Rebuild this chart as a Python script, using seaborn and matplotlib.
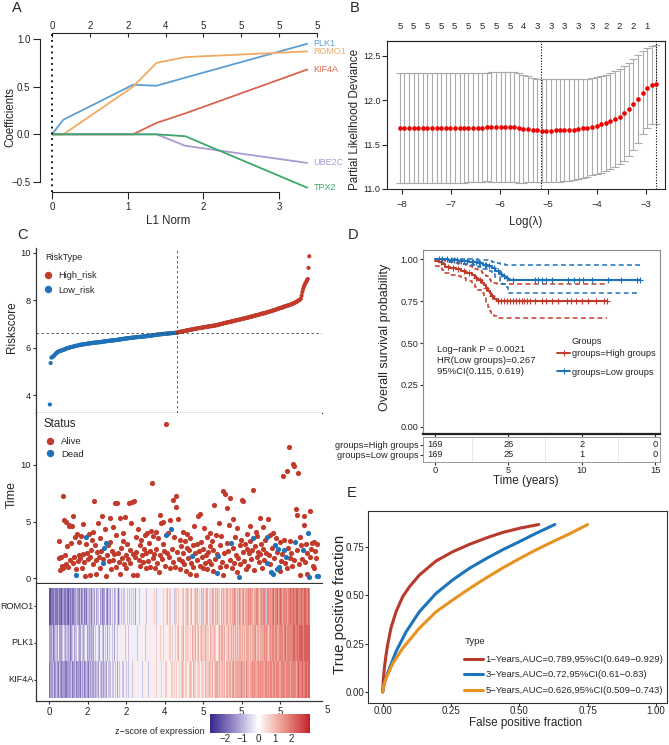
import numpy as np
import pandas as pd
import matplotlib
matplotlib.use("Agg")
import matplotlib.pyplot as plt
import seaborn as sns
from matplotlib.lines import Line2D
from matplotlib.colors import LinearSegmentedColormap

# ---------------- data ----------------
# A: lasso coefficient paths (knots)
genes = ["PLK1", "ROMO1", "KIF4A", "UBE2C", "TPX2"]
l1_norm = [0, 0.15, 1.07, 1.38, 1.76, 3.37]
coef_plk1 = [0, 0.154, 0.52, 0.51, 0.595, 0.95]
coef_romo1 = [0, 0.0, 0.50, 0.75, 0.81, 0.87]
coef_kif4a = [0, 0, 0, 0.12, 0.22, 0.68]
coef_ube2c = [0, 0, 0, 0, -0.12, -0.30]
coef_tpx2 = [0, 0, 0, 0, -0.02, -0.56]
a_top_pos = [0, 0.5, 1, 1.5, 2, 2.5, 3, 3.5]
a_top_labels = ["0", "2", "2", "4", "5", "5", "5", "5"]

# B: cross-validation curve
log_lambda = [-8.04, -7.95, -7.85, -7.76, -7.67, -7.57, -7.48, -7.39, -7.29, -7.20,
              -7.10, -7.01, -6.92, -6.82, -6.73, -6.64, -6.54, -6.45, -6.35, -6.26,
              -6.17, -6.07, -5.98, -5.89, -5.79, -5.70, -5.60, -5.51, -5.42, -5.32,
              -5.23, -5.14, -5.04, -4.95, -4.85, -4.76, -4.67, -4.57, -4.48, -4.39,
              -4.29, -4.20, -4.10, -4.01, -3.92, -3.82, -3.73, -3.63, -3.54, -3.45,
              -3.35, -3.26, -3.17, -3.07, -2.98, -2.88, -2.79]
cvm = [11.684, 11.684, 11.684, 11.684, 11.684, 11.684, 11.684, 11.684, 11.684, 11.684,
       11.684, 11.684, 11.684, 11.684, 11.684, 11.692, 11.692, 11.692, 11.692, 11.699,
       11.699, 11.699, 11.699, 11.699, 11.699, 11.695, 11.688, 11.680, 11.673, 11.665,
       11.662, 11.658, 11.658, 11.658, 11.662, 11.662, 11.665, 11.665, 11.669, 11.677,
       11.684, 11.692, 11.703, 11.714, 11.729, 11.744, 11.763, 11.786, 11.816, 11.853,
       11.898, 11.955, 12.015, 12.086, 12.135, 12.173, 12.180]
cvsd = [0.621, 0.621, 0.621, 0.621, 0.621, 0.621, 0.621, 0.621, 0.621, 0.621,
        0.621, 0.621, 0.621, 0.621, 0.621, 0.613, 0.613, 0.617, 0.617, 0.609,
        0.617, 0.617, 0.617, 0.617, 0.617, 0.621, 0.617, 0.609, 0.598, 0.587,
        0.583, 0.583, 0.583, 0.583, 0.579, 0.579, 0.576, 0.576, 0.572, 0.564,
        0.557, 0.553, 0.549, 0.549, 0.545, 0.545, 0.542, 0.541, 0.534, 0.534,
        0.527, 0.515, 0.496, 0.470, 0.451, 0.440, 0.444]
nz_labels = [5, 5, 5, 5, 5, 5, 5, 5, 5, 4, 3, 3, 3, 3, 3, 2, 2, 2, 1]
lambda_min = -5.16
lambda_1se = -2.79

# C: risk score (sorted), survival time, heatmap
n_low = 166
risk_score = [
    3.60, 5.35, 5.58, 5.60, 5.62, 5.65, 5.68, 5.72, 5.76, 5.79,
    5.81, 5.83, 5.85, 5.86, 5.87, 5.88, 5.89, 5.90, 5.91, 5.93,
    5.94, 5.96, 5.97, 5.98, 5.99, 6.00, 6.01, 6.02, 6.03, 6.03,
    6.04, 6.05, 6.06, 6.07, 6.08, 6.08, 6.09, 6.10, 6.11, 6.12,
    6.12, 6.13, 6.13, 6.14, 6.14, 6.15, 6.15, 6.16, 6.16, 6.17,
    6.17, 6.18, 6.18, 6.19, 6.19, 6.20, 6.20, 6.21, 6.21, 6.21,
    6.22, 6.22, 6.22, 6.23, 6.23, 6.23, 6.24, 6.24, 6.25, 6.25,
    6.26, 6.26, 6.27, 6.27, 6.28, 6.28, 6.29, 6.29, 6.29, 6.30,
    6.30, 6.30, 6.31, 6.31, 6.31, 6.32, 6.32, 6.33, 6.33, 6.34,
    6.34, 6.35, 6.35, 6.36, 6.36, 6.37, 6.37, 6.38, 6.38, 6.39,
    6.39, 6.40, 6.40, 6.40, 6.41, 6.41, 6.42, 6.42, 6.42, 6.43,
    6.43, 6.44, 6.44, 6.44, 6.45, 6.45, 6.45, 6.46, 6.46, 6.46,
    6.47, 6.47, 6.47, 6.48, 6.48, 6.48, 6.49, 6.49, 6.49, 6.50,
    6.50, 6.51, 6.51, 6.52, 6.52, 6.53, 6.53, 6.54, 6.54, 6.55,
    6.55, 6.55, 6.56, 6.56, 6.57, 6.57, 6.57, 6.58, 6.58, 6.58,
    6.59, 6.59, 6.59, 6.60, 6.60, 6.60, 6.61, 6.61, 6.61, 6.62,
    6.62, 6.62, 6.62, 6.63, 6.63, 6.63,
    6.64, 6.65, 6.66, 6.67, 6.67, 6.68, 6.69, 6.69, 6.70, 6.71,
    6.71, 6.72, 6.73, 6.73, 6.74, 6.75, 6.75, 6.76, 6.77, 6.77,
    6.78, 6.78, 6.79, 6.80, 6.80, 6.81, 6.82, 6.82, 6.83, 6.83,
    6.84, 6.84, 6.85, 6.85, 6.86, 6.87, 6.87, 6.88, 6.88, 6.89,
    6.89, 6.90, 6.90, 6.91, 6.91, 6.92, 6.92, 6.93, 6.93, 6.94,
    6.95, 6.95, 6.96, 6.97, 6.98, 6.99, 7.00, 7.00, 7.01, 7.02,
    7.03, 7.04, 7.05, 7.05, 7.06, 7.07, 7.08, 7.08, 7.09, 7.10,
    7.11, 7.11, 7.12, 7.13, 7.14, 7.15, 7.15, 7.16, 7.17, 7.18,
    7.18, 7.19, 7.20, 7.21, 7.22, 7.22, 7.23, 7.24, 7.25, 7.25,
    7.26, 7.27, 7.28, 7.29, 7.30, 7.31, 7.31, 7.32, 7.33, 7.34,
    7.35, 7.36, 7.37, 7.37, 7.38, 7.39, 7.40, 7.41, 7.42, 7.43,
    7.44, 7.45, 7.45, 7.46, 7.47, 7.48, 7.49, 7.50, 7.51, 7.52,
    7.53, 7.54, 7.55, 7.56, 7.57, 7.58, 7.59, 7.60, 7.61, 7.63,
    7.64, 7.65, 7.66, 7.67, 7.68, 7.69, 7.70, 7.71, 7.73, 7.74,
    7.75, 7.76, 7.77, 7.78, 7.79, 7.80, 7.81, 7.82, 7.84, 7.85,
    7.87, 7.88, 7.90, 7.91, 7.93, 7.95, 7.97, 7.99, 8.01, 8.04,
    8.07, 8.20, 8.35, 8.48, 8.58, 8.66, 8.72, 8.78, 8.84, 8.90,
    9.37, 9.86]
risk_cut = 6.63

surv_time = [
    1.8, 3.3, 0.7, 1.9, 1.1, 0.9, 7.3, 5.1, 2.0, 1.2,
    5.0, 2.8, 1.0, 4.6, 4.7, 1.6, 3.1, 4.6, 1.3, 5.5,
    1.9, 3.6, 0.8, 0.24, 3.9, 1.5, 3.2, 2.0, 1.8, 3.7,
    0.9, 2.1, 4.8, 1.4, 0.2, 3.0, 3.6, 2.2, 1.7, 3.9,
    1.9, 0.3, 2.5, 3.4, 1.2, 4.1, 6.8, 2.9, 1.6, 0.4,
    2.3, 4.9, 1.9, 3.5, 0.9, 2.4, 5.5, 1.7, 1.3, 2.7,
    4.3, 0.2, 3.13, 2.0, 2.9, 1.5, 3.2, 5.3, 0.8, 2.4,
    1.6, 4.5, 2.1, 6.6, 1.0, 3.8, 6.67, 2.2, 1.4, 5.3,
    0.4, 2.7, 1.8, 3.3, 4.0, 1.2, 5.4, 2.0, 0.9, 3.0,
    1.7, 6.6, 2.5, 1.3, 4.9, 6.7, 2.1, 0.25, 6.8, 1.9,
    3.6, 2.3, 0.3, 4.3, 1.6, 2.9, 1.1, 3.4, 2.0, 5.2,
    1.4, 2.6, 3.8, 0.9, 2.2, 4.0, 1.5, 3.1, 1.0, 2.4,
    4.2, 8.4, 1.8, 3.7, 2.1, 0.9, 4.1, 2.6, 1.3, 3.5,
    0.5, 5.6, 2.0, 4.9, 1.7, 3.0, 5.0, 2.4, 1.1, 3.8,
    13.6, 2.2, 4.0, 1.9, 5.1, 0.9, 4.3, 2.6, 6.9, 1.4,
    3.6, 1.0, 6.3, 7.26, 2.3, 5.2, 1.7, 3.4, 0.8, 2.8,
    1.5, 4.1, 2.2, 1.2, 3.3, 0.6, 2.7, 3.9, 1.8, 2.5,
    0.4, 3.5, 1.3, 1.95, 2.9, 1.0, 4.6, 2.2, 0.3, 3.0,
    1.6, 5.5, 2.4, 1.1, 5.7, 3.2, 1.9, 0.9, 2.6, 4.4,
    1.3, 2.0, 3.6, 0.8, 2.3, 1.5, 4.0, 2.8, 1.2, 3.3,
    0.6, 2.5, 6.5, 1.7, 3.8, 2.1, 0.47, 1.95, 4.9, 1.0,
    2.9, 3.7, 1.4, 0.3, 7.7, 2.2, 7.4, 1.1, 6.2, 3.1,
    2.4, 4.7, 7.05, 1.6, 3.1, 0.9, 2.7, 5.2, 1.3, 3.6,
    2.0, 0.5, 4.4, 1.8, 0.12, 2.9, 1.2, 3.4, 6.9, 2.3,
    6.8, 1.5, 3.0, 0.8, 2.6, 3.9, 1.1, 2.2, 4.6, 3.3,
    1.7, 2.5, 7.75, 3.5, 0.7, 2.8, 4.1, 1.9, 3.7, 2.3,
    1.4, 5.3, 2.1, 3.0, 0.9, 2.6, 4.5, 1.6, 3.4, 2.2,
    3.66, 1.36, 5.2, 2.0, 3.8, 1.2, 0.5, 2.7, 4.0, 0.35,
    1.8, 2.9, 3.5, 0.8, 2.3, 2.6, 1.0, 3.2, 0.6, 1.5,
    2.1, 9.0, 3.4, 2.48, 1.3, 1.9, 0.9, 9.5, 2.7, 11.56,
    1.8, 3.3, 2.2, 1.1, 10.1, 9.9, 1.6, 3.2, 6.1, 2.5,
    5.6, 9.3, 1.2, 3.6, 0.3, 2.9, 1.7, 2.48, 4.7, 5.5,
    1.4, 3.0, 0.4, 2.2, 3.95, 0.06, 5.9, 1.9, 2.6, 3.1,
    1.1, 3.2, 0.9, 2.4, 1.8, 3.0, 0.18, 0.22]
dead_ranks = [24, 37, 59, 60, 63, 140, 147, 174, 207, 208, 225, 235, 254, 271, 272,
              277, 280, 282, 284, 286, 287, 294, 296, 308, 318, 325, 326, 337, 338]
time_shift = 11.5  # the time strip sits slightly right of the other strips

heat_genes = ["ROMO1", "PLK1", "KIF4A"]
# one digit per patient: level d -> z = -2.25 + 0.5 * d
heat_romo1 = "".join((
    "00110121011221102121122101", "21213122132211312231221332", "23132324123342231322432133",
    "32433423243132434233425343", "44354342545434454355443545", "45455465435456455465546356",
    "56546536565646556635665765", "66756467667566476675676746", "76676757667667576776675766",
    "77676787677687767786776787", "78778677878767787788737887", "88788978889788987898889788",
    "89889888979889898889987898"))
heat_plk1 = "".join((
    "22232123332412223243213322", "31232423134322243223414232", "43234243344323443524334243",
    "34435425443453445345344535", "45443545543455445455354454", "54556455465455645565465556",
    "56566546656756566475665665", "66576667566756676566767665", "67667676575676677667567676",
    "76767767677676767767676776", "77676778677768777678787767", "88787878887787888788978888",
    "78889898899899999899999999"))
heat_kif4a = "".join((
    "12221312232123212322131223", "22313223312232132431223213", "32324232433243323423342433",
    "43435343452434453434543435", "44534454354454453545445435", "54556454565455465545656455",
    "65665465665566567565666556", "67656766576667566765767667", "76677567767677667767576767",
    "77677867767776787677687776", "87787787767877878377887787", "78878887878878788878787888",
    "87888988788989889898999899"))
heat_ticks = [0, 50, 100, 150, 200, 250, 300]
heat_tick_labels = ["0", "2", "2", "4", "5", "5", "5"]

# D: Kaplan-Meier
high_t = [0, 0.25, 0.5, 0.7, 1.0, 1.4, 1.8, 2.1, 2.5, 2.7, 2.95, 3.2, 3.35, 3.45, 3.6, 3.75, 3.85, 4.05, 4.2, 11.7]
high_s = [0.988, 0.98, 0.97, 0.955, 0.945, 0.94, 0.93, 0.915, 0.905, 0.89, 0.875, 0.86, 0.845, 0.83,
          0.81, 0.795, 0.78, 0.762, 0.75, 0.75]
high_up = [1.0, 0.998, 0.994, 0.988, 0.982, 0.976, 0.968, 0.958, 0.95, 0.94, 0.93, 0.918, 0.908, 0.898,
           0.885, 0.874, 0.866, 0.856, 0.851, 0.851]
high_lo = [0.96, 0.945, 0.932, 0.915, 0.905, 0.898, 0.885, 0.868, 0.853, 0.835, 0.815, 0.795, 0.772,
           0.745, 0.715, 0.693, 0.678, 0.662, 0.65, 0.65]
low_t = [0, 0.9, 1.6, 2.3, 2.9, 3.3, 3.6, 3.9, 4.1, 4.4, 4.6, 4.8, 5.0, 14.0]
low_s = [1.0, 0.994, 0.988, 0.982, 0.975, 0.966, 0.957, 0.945, 0.93, 0.913, 0.9, 0.89, 0.877, 0.877]
low_up = [1.0, 1.0, 1.0, 0.999, 0.997, 0.994, 0.99, 0.985, 0.979, 0.972, 0.969, 0.967, 0.965, 0.965]
low_lo = [1.0, 0.982, 0.972, 0.962, 0.952, 0.94, 0.928, 0.912, 0.893, 0.87, 0.85, 0.832, 0.80, 0.80]
high_cens = [0.4, 0.9, 1.2, 1.6, 2.0, 2.3, 2.8, 3.1, 3.5, 3.9, 4.3, 4.5, 4.7, 4.9, 5.1, 5.3, 5.5, 5.7,
             5.9, 6.1, 6.3, 6.5, 6.8, 7.3, 7.6, 8.0, 8.4, 9.0, 9.3, 9.6, 10.0, 10.4, 11.0, 11.5, 11.7]
low_cens = [0.3, 0.5, 0.8, 1.1, 1.3, 1.5, 1.8, 2.0, 2.2, 2.5, 2.6, 2.8, 3.0, 3.1, 3.4, 3.5, 3.7, 4.0,
            4.3, 4.5, 4.7, 4.9, 5.3, 6.8, 7.05, 7.3, 7.6, 7.95, 9.1, 9.5, 9.8, 10.1, 10.7, 11.8,
            12.7, 13.75, 14.0]
km_groups = ["groups=High groups", "groups=Low groups"]
table_times = [0, 5, 10, 15]
n_risk_high = [169, 26, 2, 0]
n_risk_low = [169, 25, 1, 0]
km_stats = ["Log\u2212rank P = 0.0021", "HR(Low groups)=0.267", "95%CI(0.115, 0.619)"]

# E: time-dependent ROC
roc_types = ["1\u2212Years,AUC=0.789,95%CI(0.649\u22120.929)",
             "3\u2212Years,AUC=0.72,95%CI(0.61\u22120.83)",
             "5\u2212Years,AUC=0.626,95%CI(0.509\u22120.743)"]
fpr_1y = [0, 0.002, 0.006, 0.012, 0.018, 0.030, 0.049, 0.073, 0.098, 0.134, 0.195, 0.256, 0.317,
          0.378, 0.439, 0.505, 0.571]
tpr_1y = [0, 0.06, 0.122, 0.19, 0.243, 0.33, 0.416, 0.493, 0.545, 0.605, 0.678, 0.726, 0.764,
          0.797, 0.826, 0.849, 0.867]
fpr_3y = [0, 0.006, 0.015, 0.024, 0.049, 0.085, 0.134, 0.195, 0.256, 0.317, 0.378, 0.44, 0.5, 0.565, 0.63]
tpr_3y = [0, 0.045, 0.085, 0.12, 0.21, 0.31, 0.415, 0.51, 0.58, 0.64, 0.69, 0.737, 0.778, 0.824, 0.867]
fpr_5y = [0, 0.005, 0.012, 0.037, 0.073, 0.134, 0.195, 0.256, 0.317, 0.378, 0.44, 0.5, 0.56, 0.622,
          0.69, 0.75]
tpr_5y = [0, 0.04, 0.07, 0.148, 0.226, 0.33, 0.415, 0.476, 0.535, 0.59, 0.643, 0.69, 0.735, 0.778,
          0.823, 0.867]

# ---------------- style ----------------
sns.set_style("ticks")
plt.rcParams["font.family"] = ["Liberation Sans", "DejaVu Sans"]
plt.rcParams["axes.linewidth"] = 0.8
plt.rcParams["axes.unicode_minus"] = True

RED = "#C23B2A"
BLUE = "#1F72B8"
gene_colors = {"PLK1": "#5A9FD4", "ROMO1": "#F0AA62", "KIF4A": "#D9654F",
               "UBE2C": "#A99BD3", "TPX2": "#3CA86A"}

W, H = 669, 745
fig = plt.figure(figsize=(W / 100, H / 100), dpi=100)


def add_ax(box):
    x0, y0, x1, y1 = box
    return fig.add_axes([x0 / W, 1 - y1 / H, (x1 - x0) / W, (y1 - y0) / H])


def to_ax(box, px, py):
    x0, y0, x1, y1 = box
    return (px - x0) / (x1 - x0), (y1 - py) / (y1 - y0)


def labels_at(ax, box, xlabel=None, xpos=None, ylabel=None, ypos=None, size=8.5):
    if xlabel is not None:
        ax.set_xlabel(xlabel, fontsize=size, va="center", ha="center")
        ax.xaxis.set_label_coords(*to_ax(box, *xpos))
    if ylabel is not None:
        ax.set_ylabel(ylabel, fontsize=size, va="center", ha="center")
        ax.yaxis.set_label_coords(*to_ax(box, *ypos))


def letter(txt, px, py):
    fig.text(px / W, 1 - py / H, txt, fontsize=10.5, ha="center", va="center")


def ftext(px, py, txt, **kw):
    fig.text(px / W, 1 - py / H, txt, **kw)


def dot_legend(ax, colors, labels, left_px, top_px, size, pitch_sp, hlen, hpad):
    handles = [Line2D([], [], ls="", marker="o", ms=4.3, color=c) for c in colors]
    ax.legend(handles=handles, labels=labels, loc="upper left",
              bbox_to_anchor=(left_px / W, 1 - top_px / H), bbox_transform=fig.transFigure,
              frameon=False, fontsize=size, handlelength=hlen, handletextpad=hpad,
              labelspacing=pitch_sp, borderpad=0, borderaxespad=0)


# ---------------- A ----------------
box_a = (40, 33, 318.6, 192)
ax_a = add_ax(box_a)
coef_df = pd.DataFrame({
    "norm": l1_norm * 5,
    "coef": coef_plk1 + coef_romo1 + coef_kif4a + coef_ube2c + coef_tpx2,
    "gene": [g for g in genes for _ in l1_norm],
})
sns.lineplot(data=coef_df, x="norm", y="coef", hue="gene", hue_order=genes, palette=gene_colors,
             linewidth=1.3, legend=False, errorbar=None, ax=ax_a)
ax_a.axvline(0, color="black", ls=(0, (1, 2.2)), lw=1.3)
ax_a.set_xlim(-0.159, 3.52)
ax_a.set_ylim(-0.605, 1.063)
ax_a.spines["right"].set_visible(False)
ax_a.spines["top"].set_visible(False)
ax_a.spines["left"].set_bounds(-0.5, 1.0)
ax_a.spines["bottom"].set_bounds(0, 3)
ax_a.set_xticks([0, 1, 2, 3])
ax_a.set_yticks([-0.5, 0, 0.5, 1.0], labels=["\u22120.5", "0.0", "0.5", "1.0"])
ax_a.tick_params(direction="out", length=5, width=0.8, labelsize=7, pad=2)
top_a = ax_a.secondary_xaxis("top")
top_a.set_xticks(a_top_pos, labels=a_top_labels)
top_a.spines["top"].set_bounds(0, 3.5)
top_a.tick_params(direction="in", length=3, width=0.8, labelsize=7, pad=1.5)
ends = [coef_plk1[-1], coef_romo1[-1], coef_kif4a[-1], coef_ube2c[-1], coef_tpx2[-1]]
for g, yv in zip(genes, ends):
    ax_a.text(3.45, yv, g, color=gene_colors[g], fontsize=6.5, ha="left", va="center", clip_on=False)
labels_at(ax_a, box_a, "L1 Norm", (168, 221), "Coefficients", (10, 117), size=8.3)
letter("A", 17, 8)

# ---------------- B ----------------
box_b = (387, 41, 665, 189)
ax_b = add_ax(box_b)
ax_b.errorbar(log_lambda, cvm, yerr=cvsd, fmt="none", ecolor="#ABABAB", elinewidth=0.8,
              capsize=3.0, capthick=0.8)
sns.scatterplot(x=log_lambda, y=cvm, color="#F00000", s=11, linewidth=0, ax=ax_b, zorder=3)
for v in (lambda_min, lambda_1se):
    ax_b.axvline(v, color="black", ls=(0, (1, 1.5)), lw=0.8)
ax_b.set_xlim(-8.307, -2.61)
ax_b.set_ylim(11.0, 12.669)
ax_b.set_xticks([-8, -7, -6, -5, -4, -3])
ax_b.set_yticks([11.0, 11.5, 12.0, 12.5], labels=["11.0", "11.5", "12.0", "12.5"])
ax_b.tick_params(direction="out", length=3.5, width=0.8, labelsize=6.8, pad=4.5)
ax_b.tick_params(axis="y", labelsize=6.5, pad=1.2)
top_b = ax_b.secondary_xaxis("top")
top_b.set_xticks(log_lambda[::3], labels=[str(n) for n in nz_labels])
top_b.tick_params(length=0, labelsize=6.8, pad=7)
labels_at(ax_b, box_b, "Log(\u03bb)", (526, 222), "Partial Likelihood Deviance", (355.5, 119), size=8.4)
letter("B", 355, 8)

# ---------------- C ----------------
ranks = np.arange(1, len(risk_score) + 1)
risk_df = pd.DataFrame({"rank": ranks, "score": risk_score,
                        "type": ["Low_risk"] * n_low + ["High_risk"] * (len(risk_score) - n_low)})
status = np.where(np.isin(np.arange(1, len(surv_time) + 1), dead_ranks), "Dead", "Alive")
time_df = pd.DataFrame({"x": np.arange(1, len(surv_time) + 1) + time_shift, "time": surv_time,
                        "status": status})
c_xlim = (-17, 354.5)

box_r = (36, 248, 322, 413)
ax_r = add_ax(box_r)
sns.scatterplot(data=risk_df, x="rank", y="score", hue="type",
                palette={"High_risk": RED, "Low_risk": BLUE}, s=9, linewidth=0, legend=False, ax=ax_r)
ax_r.axhline(risk_cut, color="#444444", ls=(0, (3, 3)), lw=0.6)
ax_r.axvline(n_low + 0.5, color="#444444", ls=(0, (3, 3)), lw=0.6)
ax_r.set_xlim(*c_xlim)
ax_r.set_ylim(3.24, 10.21)
ax_r.set_xticks([0, 100, 200, 300], labels=[])
ax_r.set_yticks([4, 6, 8, 10])
ax_r.set_xlabel("")
labels_at(ax_r, box_r, ylabel="Riskscore", ypos=(12, 327), size=8.5)
ftext(45, 258, "RiskType", fontsize=6.5, ha="left", va="center")
dot_legend(ax_r, [RED, BLUE], ["High_risk", "Low_risk"], 43.5, 271, 6.6, 0.62, 1.0, 0.65)

box_t = (36, 413, 322, 583)
ax_t = add_ax(box_t)
sns.scatterplot(data=time_df[time_df.status == "Alive"], x="x", y="time", color=RED, s=14,
                linewidth=0, ax=ax_t)
sns.scatterplot(data=time_df[time_df.status == "Dead"], x="x", y="time", color=BLUE, s=14,
                linewidth=0, ax=ax_t)
ax_t.set_xlim(*c_xlim)
ax_t.set_ylim(-0.44, 14.6)
ax_t.set_xticks([0, 100, 200, 300], labels=[])
ax_t.set_yticks([0, 5, 10])
ax_t.set_xlabel("")
labels_at(ax_t, box_t, ylabel="Time", ypos=(12, 495), size=8.8)
ftext(44, 424, "Status", fontsize=8.3, ha="left", va="center")
dot_legend(ax_t, [RED, BLUE], ["Alive", "Dead"], 44.3, 437, 6.8, 0.4, 1.2, 0.57)

for ax in (ax_r, ax_t):
    sns.despine(ax=ax)
    ax.tick_params(direction="out", length=2.5, width=0.8, labelsize=6.8, pad=1, color="#333333")
    for s in ("left", "bottom"):
        ax.spines[s].set_color("#333333")
        ax.spines[s].set_linewidth(0.9)

heat_df = pd.DataFrame([[-2.25 + 0.5 * int(c) for c in s] for s in (heat_romo1, heat_plk1, heat_kif4a)],
                       index=heat_genes)
heat_cmap = LinearSegmentedColormap.from_list(
    "zscore", ["#2A1A86", "#9385C6", "#FFFFFF", "#EC958A", "#C3232B"])
box_h = (36, 584, 322, 701)
ax_h = add_ax(box_h)
cax = add_ax((210, 714, 310, 733))
sns.heatmap(heat_df, ax=ax_h, cmap=heat_cmap, vmin=-2.9, vmax=3.1, center=0, cbar_ax=cax,
            cbar_kws={"orientation": "horizontal", "ticks": [-2, -1, 0, 1, 2]},
            xticklabels=False, yticklabels=True)
ax_h.set_xlim(c_xlim[0] - 0.5, c_xlim[1] - 0.5)
ax_h.set_ylim(3.082, -0.109)
ax_h.set_xticks([t - 0.5 for t in heat_ticks], labels=heat_tick_labels)
ax_h.set_yticks([0.5, 1.5, 2.5], labels=heat_genes, rotation=0)
ax_h.text(360.5, -0.075, "5", fontsize=7, ha="center", va="center", clip_on=False,
          transform=ax_h.get_xaxis_transform())
for s in ("left", "bottom"):
    ax_h.spines[s].set_visible(True)
    ax_h.spines[s].set_color("#333333")
    ax_h.spines[s].set_linewidth(0.9)
ax_h.tick_params(axis="y", direction="out", length=1.5, width=0.8, labelsize=6.6, pad=0.4,
                 color="#333333")
ax_h.tick_params(axis="x", direction="out", length=2.5, width=0.8, labelsize=7, pad=1.5,
                 color="#333333")
cbar = ax_h.collections[0].colorbar
cbar.outline.set_visible(False)
cax.tick_params(axis="x", direction="in", color="white", length=3, width=0.8, labelsize=7,
                pad=0.5, top=True)
ftext(205, 732, "z\u2212score of expression", fontsize=6.6, ha="right", va="center")
letter("C", 22, 235)

# ---------------- D ----------------
box_d = (423, 250, 660, 434)
ax_d = add_ax(box_d)
dash = (0, (3.2, 2.2))
for t, up, lo, col in ((high_t, high_up, high_lo, RED), (low_t, low_up, low_lo, BLUE)):
    ax_d.step(t, up, where="post", color=col, lw=1.1, ls=dash)
    ax_d.step(t, lo, where="post", color=col, lw=1.1, ls=dash)
for t, s, col in ((high_t, high_s, RED), (low_t, low_s, BLUE)):
    sns.lineplot(x=t, y=s, drawstyle="steps-post", color=col, lw=1.5, errorbar=None, ax=ax_d)
for t, s, cens, col in ((high_t, high_s, high_cens, RED), (low_t, low_s, low_cens, BLUE)):
    idx = np.searchsorted(t, cens, side="right") - 1
    ax_d.plot(cens, np.array(s)[idx], ls="", marker="+", ms=5, mew=0.8, color=col)
d_xlim = (-0.82, 15.34)
ax_d.set_xlim(*d_xlim)
ax_d.set_ylim(-0.042, 1.054)
ax_d.set_xticks(table_times, labels=[])
ax_d.set_yticks([0, 0.25, 0.5, 0.75, 1.0], labels=["0.00", "0.25", "0.50", "0.75", "1.00"])
ax_d.tick_params(direction="out", length=2.5, width=0.8, labelsize=6.6, pad=0.8, color="#333333")
for s in ("top", "right", "left"):
    ax_d.spines[s].set_color("#8C8C8C")
ax_d.spines["bottom"].set_color("#222222")
ax_d.spines["bottom"].set_linewidth(1.6)
for i, txt in enumerate(km_stats):
    ax_d.text(0.12, 0.464 - i * 0.068, txt, fontsize=6.8, ha="left", va="center")
ax_d.legend(handles=[Line2D([], [], color=RED, marker="+", lw=1.4, ms=5, mew=0.8),
                     Line2D([], [], color=BLUE, marker="+", lw=1.4, ms=5, mew=0.8)],
            labels=km_groups, loc="upper left", bbox_to_anchor=(557 / W, 1 - 349.5 / H),
            bbox_transform=fig.transFigure, frameon=False, fontsize=6.7, handlelength=1.4,
            handletextpad=0.2, labelspacing=0.97, borderpad=0, borderaxespad=0)
ftext(572, 342, "Groups", fontsize=6.7, ha="left", va="center")
ax_d.set_xlabel("")
labels_at(ax_d, box_d, ylabel="Overall survival probability", ypos=(385, 337), size=9)
letter("D", 353, 235)

box_tab = (423, 437, 660, 462)
ax_tab = add_ax(box_tab)
ax_tab.set_xlim(*d_xlim)
ax_tab.set_ylim(0, 1)
ax_tab.set_xticks(table_times, labels=[str(t) for t in table_times])
ax_tab.set_xticks([2.5, 7.5, 12.5], minor=True)
ax_tab.set_yticks([0.68, 0.28], labels=km_groups)
ax_tab.grid(axis="x", which="both", color="#E6E6E6", lw=0.6)
for t, nh, nl in zip(table_times, n_risk_high, n_risk_low):
    ax_tab.text(t, 0.68, str(nh), fontsize=6.7, ha="center", va="center")
    ax_tab.text(t, 0.28, str(nl), fontsize=6.7, ha="center", va="center")
for s in ax_tab.spines.values():
    s.set_color("#8C8C8C")
    s.set_linewidth(0.6)
ax_tab.tick_params(which="major", direction="out", length=2.5, width=0.8, labelsize=6.7, pad=0.5,
                   color="#333333")
ax_tab.tick_params(which="minor", length=0)
labels_at(ax_tab, box_tab, "Time (years)", (526, 481), size=8.5)

# ---------------- E ----------------
roc_df = pd.DataFrame({
    "fpr": fpr_1y + fpr_3y + fpr_5y,
    "tpr": tpr_1y + tpr_3y + tpr_5y,
    "type": [roc_types[0]] * len(fpr_1y) + [roc_types[1]] * len(fpr_3y) + [roc_types[2]] * len(fpr_5y),
})
roc_colors = dict(zip(roc_types, ["#B83A2D", "#1C75BC", "#E8921F"]))
box_e = (368, 511, 667, 703)
ax_e = add_ax(box_e)
sns.lineplot(data=roc_df, x="fpr", y="tpr", hue="type", hue_order=roc_types, palette=roc_colors,
             lw=2.2, sort=False, estimator=None, legend=False, ax=ax_e)
ax_e.set_xlim(-0.0538, 1.0406)
ax_e.set_ylim(-0.057, 0.937)
ax_e.set_xticks([0, 0.25, 0.5, 0.75, 1.0], labels=["0.00", "0.25", "0.50", "0.75", "1.00"])
ax_e.set_yticks([0, 0.25, 0.5, 0.75], labels=["0.00", "0.25", "0.50", "0.75"])
ax_e.tick_params(direction="out", length=2, width=0.8, labelsize=7, pad=0.4, color="#333333")
for s in ax_e.spines.values():
    s.set_color("#333333")
ax_e.legend(handles=[Line2D([], [], color=roc_colors[t], lw=2.2) for t in roc_types],
            labels=roc_types, loc="upper left",
            bbox_to_anchor=(464 / W, 1 - 655 / H), bbox_transform=fig.transFigure, frameon=False,
            fontsize=6.8, handlelength=2.0, handletextpad=0.3, labelspacing=0.68,
            borderpad=0, borderaxespad=0)
ftext(465, 642, "Type", fontsize=6.8, ha="left", va="center")
ax_e.set_xlabel("False positive fraction", fontsize=8.4, va="center", ha="center")
ax_e.xaxis.set_label_coords(*to_ax(box_e, 526, 723))
ax_e.set_ylabel("True positive fraction", fontsize=10.8, va="center", ha="center")
ax_e.yaxis.set_label_coords(*to_ax(box_e, 340, 604))
letter("E", 352, 493)

fig.savefig("out.png", dpi=100)
